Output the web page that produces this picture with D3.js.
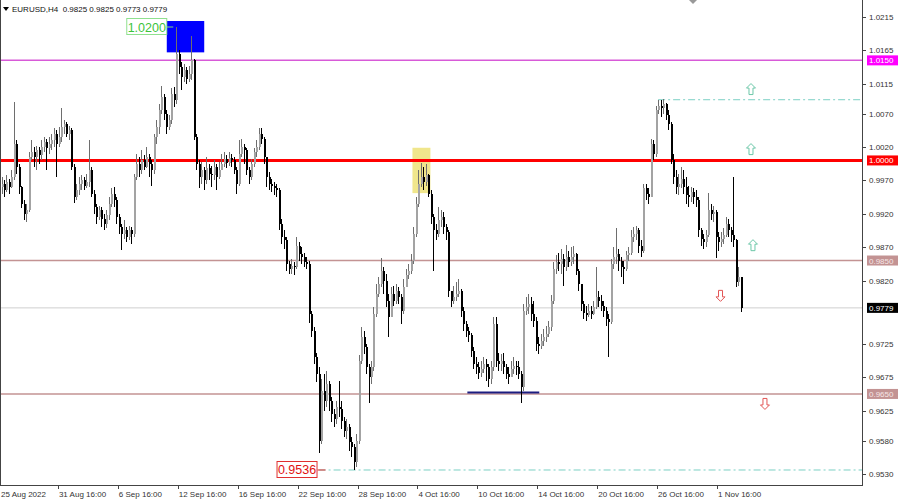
<!DOCTYPE html>
<html>
<head>
<meta charset="utf-8">
<script src="https://cdn.jsdelivr.net/npm/d3@7"></script>
<style>
  body { margin: 0; background: #fff; }
  svg { display: block; font-family: "Liberation Sans", Arial, sans-serif; }
</style>
</head>
<body>
<div id="chart"></div>
<script>
// EURUSD H4 candles, prices in pips (x 10000). open = previous bar close
var firstOpen = 9960;
var closes = [
  9965, 9955, 9968, 9960,   9975, 10025, 9990, 9960,   9935, 9920, 9925, 10005,
  10012, 10005, 10015, 10008,   10020, 10028, 10018, 10025,   10030, 10040, 10025, 10035,
  10050, 10055, 10040, 10045,   9990, 9945, 9955, 9965,   9970, 9962, 9968, 9985,
  9950, 9930, 9915, 9925,   9912, 9905, 9918, 9935,   9950, 9940, 9915, 9900,
  9890, 9895, 9885, 9895,   9890, 9975, 9995, 9985,   10000, 9990, 10005, 9995,
  9985, 10035, 10050, 10075,   10095, 10070, 10050, 10060,   10100, 10090, 10160, 10140,
  10125, 10135, 10122, 10130,   10150, 10035, 9995, 9975,   9985, 9970, 9988, 9980,
  9978, 9990, 9975, 9985,   9995, 10002, 9996, 10004,   10000, 9985, 9965, 10010,
  10020, 10015, 9985, 9975,   9995, 10012, 10020, 10040,   10032, 10005, 9975, 9965,
  9962, 9958, 9955, 9905,   9885, 9880, 9845, 9838,   9842, 9840, 9872, 9860,
  9855, 9848, 9845, 9770,   9745, 9705, 9680, 9580,   9655, 9640, 9665, 9640,
  9620, 9612, 9630, 9628,   9610, 9595, 9600, 9578,   9570, 9548, 9580, 9700,
  9735, 9720, 9690, 9675,   9690, 9770, 9800, 9815,   9835, 9820, 9790, 9765,
  9800, 9790, 9805, 9795,   9775, 9810, 9828, 9835,   9850, 9890, 9935, 9965,
  9975, 9968, 9978, 9950,   9915, 9895, 9890, 9910,   9915, 9900, 9892, 9805,
  9790, 9795, 9800, 9805,   9775, 9755, 9745, 9738,   9715, 9695, 9690, 9682,
  9688, 9695, 9690, 9672,   9690, 9755, 9700, 9695,   9700, 9690, 9680, 9675,
  9688, 9692, 9690, 9680,   9660, 9775, 9780, 9785,   9770, 9760, 9725, 9722,
  9730, 9735, 9740, 9750,   9790, 9838, 9848, 9845,   9852, 9840, 9855, 9848,
  9856, 9860, 9835, 9815,   9785, 9772, 9768, 9775,   9770, 9780, 9795, 9790,
  9782, 9775, 9762, 9758,   9845, 9855, 9860, 9850,   9840, 9838, 9858, 9862,
  9885, 9890, 9895, 9872,   9865, 9958, 9950, 9945,   10025, 10010, 10075, 10082,
  10078, 10085, 10068, 10055,   10000, 9975, 9960, 9965,   9972, 9960, 9948, 9945,
  9952, 9945, 9940, 9895,   9882, 9878, 9888, 9925,   9920, 9922, 9885, 9878,
  9882, 9888, 9905, 9895,   9888, 9880, 9818, 9825,   9779
];
var highs = [
  9975, 9970, 9978, 9972,   9985, 10088, 10030, 9995,   9962, 9940, 9935, 10012,
  10030, 10020, 10022, 10020,   10030, 10035, 10032, 10035,   10040, 10048, 10045, 10050,
  10078, 10060, 10058, 10052,   10048, 9995, 9965, 9975,   9978, 9975, 9980, 10030,
  9990, 9955, 9935, 9932,   9930, 9920, 9925, 9945,   9958, 9960, 9945, 9920,
  9905, 9910, 9900, 9902,   9900, 9980, 10010, 10005,   10016, 10008, 10020, 10010,
  10000, 10040, 10060, 10085,   10112, 10100, 10075, 10068,   10108, 10110, 10200, 10165,
  10148, 10145, 10140, 10142,   10187, 10152, 10040, 10000,   9998, 9990, 10005, 9995,
  9992, 10000, 9995, 9998,   10010, 10012, 10008, 10012,   10010, 10005, 9990, 10030,
  10032, 10025, 10018, 9990,   10002, 10018, 10030, 10048,   10048, 10035, 10005, 9982,
  9972, 9968, 9965, 9958,   9912, 9895, 9885, 9850,   9852, 9848, 9885, 9878,
  9870, 9862, 9855, 9850,   9775, 9750, 9712, 9690,   9672, 9680, 9685, 9670,
  9645, 9628, 9640, 9670,   9640, 9615, 9612, 9605,   9585, 9575, 9590, 9708,
  9750, 9745, 9725, 9695,   9700, 9780, 9815, 9825,   9854, 9840, 9830, 9800,
  9810, 9812, 9815, 9810,   9800, 9822, 9838, 9845,   9860, 9900, 9945, 9985,
  9996, 9990, 9995, 9980,   9955, 9920, 9905, 9930,   9926, 9922, 9905, 9895,
  9805, 9812, 9818, 9822,   9808, 9780, 9760, 9750,   9742, 9720, 9705, 9698,
  9700, 9705, 9702, 9695,   9700, 9765, 9765, 9712,   9710, 9712, 9695, 9690,
  9700, 9705, 9700, 9700,   9685, 9785, 9795, 9800,   9795, 9790, 9765, 9735,
  9740, 9748, 9752, 9760,   9798, 9848, 9858, 9862,   9868, 9860, 9873, 9865,
  9870, 9872, 9862, 9838,   9815, 9790, 9782, 9785,   9782, 9790, 9840, 9805,
  9798, 9790, 9780, 9770,   9852, 9870, 9899, 9868,   9855, 9850, 9865, 9870,
  9895, 9900, 9902, 9898,   9880, 9965, 9965, 9958,   10032, 10030, 10082, 10091,
  10090, 10092, 10086, 10075,   10058, 10010, 9985, 9980,   9990, 9985, 9975, 9962,
  9960, 9958, 9955, 9945,   9898, 9890, 9895, 9951,   9935, 9932, 9925, 9892,
  9892, 9898, 9915, 9912,   9900, 9975, 9882, 9840,   9825
];
var lows = [
  9950, 9945, 9952, 9950,   9958, 9970, 9980, 9950,   9928, 9910, 9908, 9922,
  10000, 9990, 9985, 9995,   10000, 10012, 9985, 10010,   10015, 10020, 9975, 10020,
  10028, 10040, 10035, 10030,   9985, 9936, 9940, 9948,   9955, 9955, 9958, 9960,
  9945, 9920, 9905, 9910,   9900, 9895, 9898, 9910,   9930, 9930, 9905, 9890,
  9866, 9882, 9878, 9880,   9875, 9885, 9970, 9975,   9980, 9985, 9988, 9975,
  9962, 9980, 10025, 10040,   10070, 10060, 10040, 10045,   10055, 10080, 10085, 10130,
  10105, 10118, 10115, 10118,   10120, 10030, 9985, 9958,   9965, 9956, 9965, 9970,
  9960, 9970, 9955, 9972,   9985, 9990, 9988, 9992,   9990, 9980, 9950, 9962,
  10005, 9995, 9978, 9965,   9970, 9990, 10005, 10015,   10025, 9995, 9960, 9955,
  9952, 9948, 9945, 9895,   9875, 9868, 9835, 9830,   9830, 9828, 9838, 9850,
  9845, 9840, 9838, 9756,   9735, 9695, 9668, 9561,   9575, 9625, 9630, 9625,
  9608, 9600, 9605, 9615,   9598, 9585, 9582, 9565,   9555, 9536, 9540, 9575,
  9695, 9710, 9680, 9636,   9665, 9685, 9765, 9795,   9810, 9800, 9780, 9735,
  9770, 9782, 9785, 9785,   9755, 9770, 9810, 9822,   9830, 9845, 9885, 9930,
  9960, 9955, 9962, 9945,   9905, 9835, 9880, 9885,   9900, 9890, 9880, 9795,
  9780, 9785, 9790, 9795,   9765, 9745, 9735, 9728,   9705, 9688, 9680, 9672,
  9675, 9682, 9670, 9660,   9665, 9685, 9690, 9685,   9685, 9680, 9672, 9665,
  9675, 9680, 9678, 9672,   9636, 9655, 9768, 9770,   9760, 9750, 9715, 9710,
  9718, 9722, 9728, 9735,   9745, 9785, 9830, 9835,   9830, 9812, 9835, 9840,
  9842, 9845, 9828, 9805,   9775, 9762, 9760, 9765,   9762, 9768, 9778, 9780,
  9775, 9765, 9752, 9705,   9755, 9838, 9845, 9835,   9825, 9815, 9835, 9850,
  9858, 9878, 9880, 9862,   9855, 9862, 9940, 9935,   9945, 10000, 10005, 10070,
  10065, 10070, 10060, 10045,   9995, 9965, 9950, 9948,   9958, 9950, 9935, 9930,
  9938, 9935, 9930, 9885,   9872, 9868, 9870, 9885,   9910, 9908, 9854, 9865,
  9870, 9875, 9885, 9885,   9878, 9870, 9810, 9812,   9773
];

// axis labels
var priceTicks = [1.0215, 1.0165, 1.0115, 1.0070, 1.0020, 0.9970, 0.9920, 0.9870,
                  0.9820, 0.9725, 0.9675, 0.9625, 0.9580, 0.9530];
var timeTicks = [0, 23, 47, 71, 95, 119, 143, 167, 191, 215, 239, 263, 287];
var timeLabels = ["25 Aug 2022", "31 Aug 16:00", "6 Sep 16:00", "12 Sep 16:00", "16 Sep 16:00",
                  "22 Sep 16:00", "28 Sep 16:00", "4 Oct 16:00", "10 Oct 16:00", "14 Oct 16:00",
                  "20 Oct 16:00", "26 Oct 16:00", "1 Nov 16:00"];

// horizontal levels and their price tags on the axis
var levelPrices = [1.0150, 1.0000, 0.9850, 0.9650];
var levelColors = ["#d85ad8", "#ff0000", "#c39393", "#c39393"];
var levelTagFill = ["#ff00ff", "#ff0000", "#c39393", "#c39393"];
var levelTagText = ["#ffffff", "#ffffff", "#f6e6e6", "#f6e6e6"];
var levelWidth = [1.5, 3, 1.5, 1.5];
var bidPrice = 0.9779;

// dotted targets (start bar, price)
var targetStart = [263, 127];
var targetPrice = [1.0091, 0.9536];

// zones: bar from, bar to, price top, price bottom
var zoneBars = [[66.2, 81.2], [164.6, 171.8]];
var zonePrices = [[1.0209, 1.0162], [1.0019, 0.9951]];
var zoneColors = ["#0000ff", "#f0e68c"];

// support segment
var segBars = [186.6, 215.4];
var segPrice = 0.9652;

// signal arrows
var upArrowBars = [300.2, 300.2, 301];
var upArrowPrices = [1.0107, 1.0017, 0.9873];
var downArrowBars = [288, 305.8];
var downArrowPrices = [0.9797, 0.9635];

if (closes.length !== highs.length || closes.length !== lows.length) {
  throw new Error("length mismatch " + closes.length + " " + highs.length + " " + lows.length);
}

var width = 900, height = 500;
var plotRight = 862, plotBottom = 485;

var svg = d3.select("#chart").append("svg")
    .attr("width", width)
    .attr("height", height);

var x = d3.scaleLinear().domain([0, 296]).range([1.5, 740.5]);
var y = d3.scaleLinear().domain([0.9530, 1.0215]).range([474, 17]);

var bars = closes.map(function(c, i) {
  var o = i === 0 ? firstOpen : closes[i - 1];
  return { i: i, o: o / 1e4, c: c / 1e4, h: highs[i] / 1e4, l: lows[i] / 1e4 };
});

// frame
svg.append("rect")
    .attr("x", 0.5).attr("y", -1)
    .attr("width", plotRight).attr("height", plotBottom + 1.5)
    .attr("fill", "none").attr("stroke", "#444");

// zones (behind candles)
svg.selectAll(".zone").data(zoneBars).enter().append("rect")
    .attr("x", function(d) { return x(d[0]); })
    .attr("width", function(d) { return x(d[1]) - x(d[0]); })
    .attr("y", function(d, i) { return y(zonePrices[i][0]); })
    .attr("height", function(d, i) { return y(zonePrices[i][1]) - y(zonePrices[i][0]); })
    .attr("fill", function(d, i) { return zoneColors[i]; });

// levels
svg.selectAll(".level").data(levelPrices).enter().append("line")
    .attr("x1", 1).attr("x2", plotRight)
    .attr("y1", function(d) { return y(d); })
    .attr("y2", function(d) { return y(d); })
    .attr("stroke", function(d, i) { return levelColors[i]; })
    .attr("stroke-width", function(d, i) { return levelWidth[i]; });

// bid line
svg.append("line")
    .attr("x1", 1).attr("x2", plotRight)
    .attr("y1", y(bidPrice)).attr("y2", y(bidPrice))
    .attr("stroke", "#cfcfcf").attr("stroke-width", 1);

// target lines
svg.selectAll(".target").data(targetPrice).enter().append("line")
    .attr("x1", function(d, i) { return x(targetStart[i]); })
    .attr("x2", plotRight)
    .attr("y1", function(d) { return y(d); })
    .attr("y2", function(d) { return y(d); })
    .attr("stroke", "#7cd0c4").attr("stroke-width", 1)
    .attr("stroke-dasharray", "7,3,2,3");

// support segment
svg.append("line")
    .attr("x1", x(segBars[0])).attr("x2", x(segBars[1]))
    .attr("y1", y(segPrice)).attr("y2", y(segPrice))
    .attr("stroke", "#1c1c80").attr("stroke-width", 2);

// candles
var candle = svg.append("g").attr("shape-rendering", "crispEdges");
candle.selectAll(".wick").data(bars).enter().append("line")
    .attr("x1", function(d) { return Math.round(x(d.i)) + 0.5; })
    .attr("x2", function(d) { return Math.round(x(d.i)) + 0.5; })
    .attr("y1", function(d) { return y(Math.max(d.h, d.o, d.c)); })
    .attr("y2", function(d) { return y(Math.min(d.l, d.o, d.c)); })
    .attr("stroke", function(d) { return d.c >= d.o ? "#6e6e6e" : "#000"; });
candle.selectAll(".body").data(bars).enter().append("rect")
    .attr("x", function(d) { return Math.round(x(d.i)) - 0.5; })
    .attr("width", 2)
    .attr("y", function(d) { return y(Math.max(d.o, d.c)); })
    .attr("height", function(d) { return Math.max(1, Math.abs(y(d.o) - y(d.c))); })
    .attr("fill", function(d) { return d.c >= d.o ? "#a3a3a3" : "#000"; });

// 1.0200 high label
var hiBar = 70, hiPrice = 1.0200;
svg.append("line")
    .attr("x1", x(hiBar) - 10).attr("x2", x(hiBar) - 3)
    .attr("y1", y(hiPrice)).attr("y2", y(hiPrice))
    .attr("stroke", "#7fd77f");
svg.append("rect")
    .attr("x", x(hiBar) - 49.5).attr("y", y(hiPrice) - 8.5)
    .attr("width", 40).attr("height", 16)
    .attr("fill", "#fff").attr("stroke", "#8fe08f");
svg.append("text")
    .attr("x", x(hiBar) - 29.5).attr("y", y(hiPrice) + 4.5)
    .attr("text-anchor", "middle")
    .attr("font-size", 12.5).attr("fill", "#3cc43c")
    .text("1.0200");

// 0.9536 low label
var loBar = 141, loPrice = 0.9536;
svg.append("line")
    .attr("x1", x(loBar) - 36).attr("x2", x(loBar) - 28)
    .attr("y1", y(loPrice)).attr("y2", y(loPrice))
    .attr("stroke", "#e03030");
svg.append("rect")
    .attr("x", x(loBar) - 76.5).attr("y", y(loPrice) - 8.5)
    .attr("width", 40).attr("height", 16)
    .attr("fill", "#fff").attr("stroke", "#e03030");
svg.append("text")
    .attr("x", x(loBar) - 56.5).attr("y", y(loPrice) + 4.5)
    .attr("text-anchor", "middle")
    .attr("font-size", 12.5).attr("fill", "#e01010")
    .text("0.9536");

// arrows
var upPath = "M0,-5.5L4.5,-1L2,-1L2,5.5L-2,5.5L-2,-1L-4.5,-1Z";
svg.selectAll(".up").data(upArrowBars).enter().append("path")
    .attr("d", upPath)
    .attr("transform", function(d, i) { return "translate(" + x(d) + "," + y(upArrowPrices[i]) + ")"; })
    .attr("fill", "#fff").attr("stroke", "#6cc7a8").attr("stroke-width", 1);
svg.selectAll(".down").data(downArrowBars).enter().append("path")
    .attr("d", upPath)
    .attr("transform", function(d, i) { return "translate(" + x(d) + "," + y(downArrowPrices[i]) + ") rotate(180)"; })
    .attr("fill", "#fff").attr("stroke", "#e25555").attr("stroke-width", 1);

// price axis
var axisG = svg.append("g");
axisG.selectAll(".pt").data(priceTicks).enter().append("line")
    .attr("x1", plotRight).attr("x2", plotRight + 4)
    .attr("y1", function(d) { return Math.round(y(d)) + 0.5; })
    .attr("y2", function(d) { return Math.round(y(d)) + 0.5; })
    .attr("stroke", "#444");
axisG.selectAll(".pl").data(priceTicks).enter().append("text")
    .attr("x", plotRight + 7)
    .attr("y", function(d) { return y(d) + 3; })
    .attr("font-size", 8).attr("fill", "#333")
    .text(function(d) { return d.toFixed(4); });

// level tags
function tag(price, fill, color) {
  svg.append("rect")
      .attr("x", 867).attr("y", y(price) - 5)
      .attr("width", 31).attr("height", 10)
      .attr("fill", fill);
  svg.append("text")
      .attr("x", 869).attr("y", y(price) + 3)
      .attr("font-size", 8).attr("fill", color)
      .text(price.toFixed(4));
}
levelPrices.forEach(function(p, i) { tag(p, levelTagFill[i], levelTagText[i]); });
tag(bidPrice, "#000", "#fff");

// time axis
svg.selectAll(".tt").data(timeTicks.slice(1)).enter().append("line")
    .attr("x1", function(d) { return Math.round(x(d)) - 0.5; })
    .attr("x2", function(d) { return Math.round(x(d)) - 0.5; })
    .attr("y1", plotBottom).attr("y2", plotBottom + 4)
    .attr("stroke", "#444");
svg.selectAll(".tl").data(timeTicks).enter().append("text")
    .attr("x", function(d, i) { return i === 0 ? 1 : x(d); })
    .attr("y", 497)
    .attr("font-size", 8).attr("fill", "#333")
    .text(function(d, i) { return timeLabels[i]; });

// header
svg.append("path").attr("d", "M3,7L9,7L6,11Z").attr("fill", "#000");
svg.append("text")
    .attr("x", 12).attr("y", 12)
    .attr("font-size", 8).attr("fill", "#111")
    .attr("xml:space", "preserve")
    .text("EURUSD,H4  0.9825 0.9825 0.9773 0.9779");
svg.append("path").attr("d", "M689,0L697,0L693,4Z").attr("fill", "#999");
</script>
</body>
</html>
